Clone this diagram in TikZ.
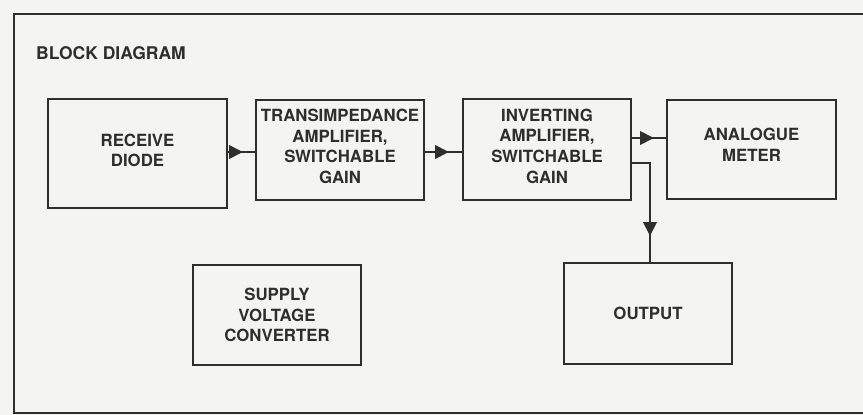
\documentclass[tikz,border=0pt]{standalone}
\usepackage{fontspec}
\setmainfont{TeX Gyre Heros}
\usetikzlibrary{arrows.meta,decorations.markings}
\definecolor{bg}{HTML}{F4F4F3}
\definecolor{ink}{HTML}{2E2E2E}
\tikzset{
  blk/.style={draw=ink, line width=2pt, fill=bg, rectangle, inner sep=0pt},
  lbl/.style={text=ink, font=\fontsize{16.8}{20.7}\selectfont\bfseries, align=center, inner sep=0pt},
  conn/.style={draw=ink, line width=2pt},
  midarrow/.style={postaction={decorate}, decoration={markings, mark=at position #1 with {\arrow[ink]{Triangle[length=14pt,width=13.5pt]}}}}
}
\begin{document}
\begin{tikzpicture}[x=1pt,y=-1pt]
\useasboundingbox (0,0) rectangle (863,415);
\fill[bg] (0,0) rectangle (863,415);
\draw[draw=ink, line width=2pt] (875,14) -- (14,14) -- (14,413) -- (875,413);
\node[lbl, anchor=west, font=\fontsize{17.5}{21}\selectfont\bfseries] (title) at (36,53) {BLOCK DIAGRAM};

\node[blk, minimum width=179pt, minimum height=109pt] (rd) at (137.5,153.5) {};
\node[blk, minimum width=168pt, minimum height=100pt] (tr) at (340,150) {};
\node[blk, minimum width=168pt, minimum height=101pt] (inv) at (547,149.5) {};
\node[blk, minimum width=169pt, minimum height=99pt] (an) at (751.5,149.5) {};
\node[blk, minimum width=168pt, minimum height=100pt] (sup) at (277,315) {};
\node[blk, minimum width=168pt, minimum height=101pt] (out) at (648,313.5) {};

\node[lbl] (rdT) at (137.5,150.5) {RECEIVE\\DIODE};
\node[lbl] (trT) at (340,146.5) {TRANSIMPEDANCE\\AMPLIFIER,\\SWITCHABLE\\GAIN};
\node[lbl] (invT) at (547,146) {INVERTING\\AMPLIFIER,\\SWITCHABLE\\GAIN};
\node[lbl] (anT) at (751.5,144.5) {ANALOGUE\\METER};
\node[lbl] (supT) at (277,315) {SUPPLY\\VOLTAGE\\CONVERTER};
\node[lbl] (outT) at (648,313) {OUTPUT};

\draw[conn, midarrow=-12pt] ([yshift=1.5pt]rd.east) -- ([yshift=1.5pt]rd.east -| tr.west);
\draw[conn, midarrow=-13pt] ([yshift=-2pt]tr.east) -- ([yshift=-2pt]tr.east -| inv.west);
\draw[conn, midarrow=-12pt] ([yshift=11.5pt]inv.east) -- ([yshift=11.5pt]inv.east -| an.west);
\coordinate (dn) at ([xshift=2pt]out.north);
\draw[conn, midarrow=-26pt] ([yshift=-13.5pt]inv.east) -| (dn);
\end{tikzpicture}
\end{document}
